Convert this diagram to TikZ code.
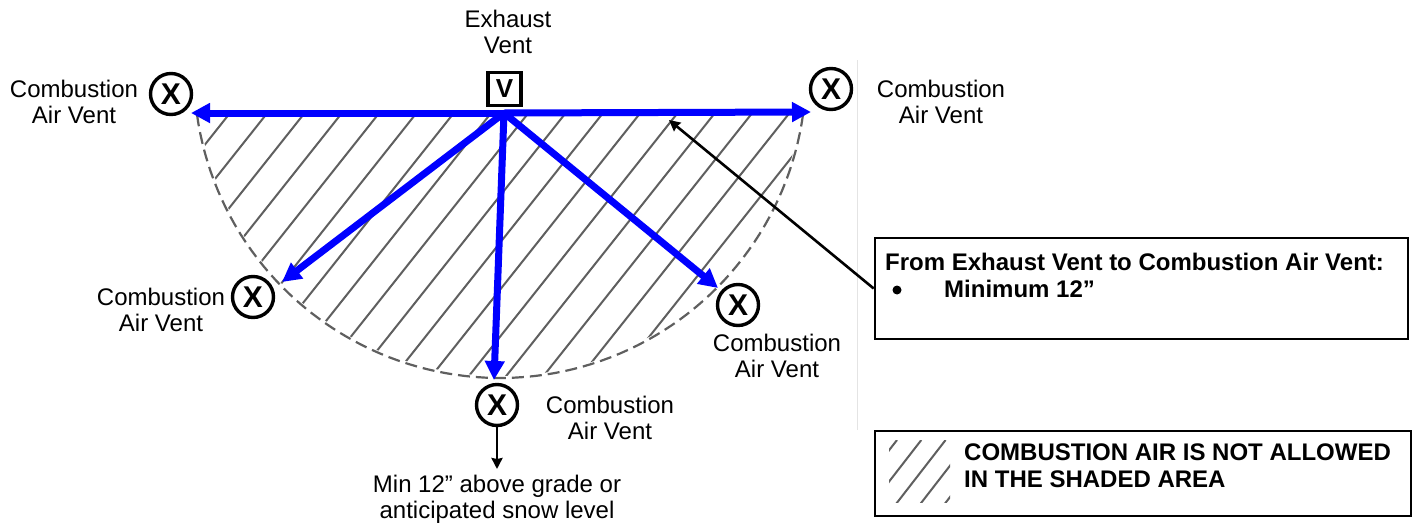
\documentclass[tikz,border=0pt]{standalone}
\usepackage{fontspec}
\setmainfont{Liberation Sans}
\usetikzlibrary{arrows.meta}
\definecolor{hatchgray}{RGB}{95,95,95}
\definecolor{rulegray}{RGB}{228,228,228}
\tikzset{
  lbl/.style={align=center,inner sep=0pt,font=\fontsize{24}{26}\selectfont},
  boldlbl/.style={align=left,inner sep=0pt,anchor=west,font=\fontsize{24}{27}\selectfont\bfseries},
  xvent/.style={circle,draw=black,line width=3.4pt,minimum size=41pt,inner sep=0pt,font=\fontsize{30}{30}\selectfont\bfseries},
  vbox/.style={rectangle,draw=black,line width=3.6pt,minimum size=33pt,inner sep=0pt,font=\fontsize{26}{26}\selectfont\bfseries},
  infobox/.style={rectangle,draw=black,line width=2.6pt,inner sep=0pt},
  bluearrow/.style={draw=blue,line width=7pt,-{Triangle[length=19pt,width=19pt]}},
  blackarrow/.style={draw=black,line width=2.6pt,-{Stealth[length=11pt,width=11pt,inset=1pt]}},
  hatchline/.style={draw=hatchgray,line width=2pt},
  dasharc/.style={draw=hatchgray,line width=2.2pt,dash pattern=on 12pt off 6pt},
}
\begin{document}
\begin{tikzpicture}[x=1pt,y=-1pt]
\useasboundingbox (0,0) rectangle (1415,525);
\fill[white] (0,0) rectangle (1415,525);
% faint rule
\coordinate (ruletop) at (857,60);
\coordinate (rulebot) at (857,430);
\draw[rulegray,line width=1pt] (ruletop) -- (rulebot);
% hatching
\begin{scope}
\clip plot[domain=8:172,samples=90] ({500+304*cos(\x)},{72+304*sin(\x)}) -- cycle;
\foreach \k in {0,...,16}{
  \draw[hatchline] ({230+37.3*\k},113) -- ({230+37.3*\k-320/1.26},433);
}
\end{scope}
\draw[dasharc] plot[domain=8:172,samples=90] ({500+306*cos(\x)},{72+306*sin(\x)});
% vents
\node[vbox] (ev) at (504.5,89) {V};
\node[xvent] (xl) at (171,94) {X};
\node[xvent] (xr) at (831,89) {X};
\node[xvent] (xll) at (253,297) {X};
\node[xvent] (xlr) at (738,305) {X};
\node[xvent] (xb) at (497,405) {X};
% labels
\node[lbl] (tev) at (508,32) {Exhaust\\Vent};
\node[lbl] (tl) at (74,102) {Combustion\\Air Vent};
\node[lbl] (tr) at (941,102) {Combustion\\Air Vent};
\node[lbl] (tll) at (161,310) {Combustion\\Air Vent};
\node[lbl] (tlr) at (777,356) {Combustion\\Air Vent};
\node[lbl] (tb) at (610,418) {Combustion\\Air Vent};
\node[lbl] (tmin) at (497,499.5) {Min 12” above grade or\\anticipated snow level};
% blue arrows
\coordinate (o) at (504,113);
\coordinate (tipl) at (191,113);
\coordinate (tipr) at (811,112);
\coordinate (tipll) at (282,282);
\coordinate (tiplr) at (718,288);
\coordinate (tipb) at (494,380);
\draw[bluearrow] (o) -- (tipl);
\draw[bluearrow] (o) -- (tipr);
\draw[bluearrow] (o) -- (tipll);
\draw[bluearrow] (o) -- (tiplr);
\draw[bluearrow] (o) -- (tipb);
% min arrow
\coordinate (minend) at (497,469);
\draw[blackarrow] (xb.south) -- (minend);
% info box
\node[infobox,minimum width=533pt,minimum height=101pt] (info) at (1141.5,288.5) {};
\node[boldlbl] (info1) at (885,262) {From Exhaust Vent to Combustion Air Vent:};
\node[circle,fill=black,minimum size=9pt,inner sep=0pt] (bul) at (897,290) {};
\node[boldlbl] (info2) at (944,289) {Minimum 12”};
\coordinate (leader) at (669,120);
\draw[blackarrow] (info.west) -- (leader);
% legend
\node[infobox,minimum width=536pt,minimum height=85pt] (legend) at (1143,473.5) {};
\begin{scope}
\clip (889,440) rectangle (950,502);
\foreach \k in {0,...,4}{
  \draw[hatchline] ({897+24.3*\k},440) -- ({897+24.3*\k-80/1.29},520);
}
\end{scope}
\node[boldlbl] (legt) at (964,465.5) {COMBUSTION AIR IS NOT ALLOWED\\IN THE SHADED AREA};
\end{tikzpicture}
\end{document}
